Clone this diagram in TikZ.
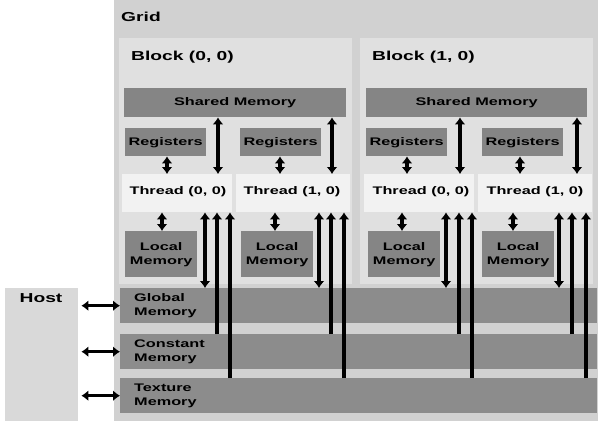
\documentclass[tikz,border=0pt]{standalone}
\usepackage{fontspec}
\newfontfamily\wide[FakeStretch=1.48]{Liberation Sans}
\usetikzlibrary{arrows.meta}
\definecolor{gridc}{gray}{0.82}
\definecolor{blockc}{gray}{0.88}
\definecolor{threadc}{gray}{0.95}
\definecolor{memc}{gray}{0.55}
\definecolor{regc}{gray}{0.52}
\definecolor{hostc}{gray}{0.85}
\begin{document}
\begin{tikzpicture}[x=1pt,y=-1pt,
  box/.style={draw=none,inner sep=0pt,anchor=north west},
  bigt/.style={font=\wide\bfseries\fontsize{13}{15}\selectfont,inner sep=0pt},
  smallt/.style={font=\wide\bfseries\fontsize{11}{12}\selectfont,inner sep=0pt,align=center},
  memt/.style={font=\wide\bfseries\fontsize{11}{14}\selectfont,inner sep=0pt,align=left,anchor=west},
  conn/.style={line width=3.6pt,draw=black},
  dbl/.style={conn,{Latex[length=7pt,width=11pt]}-{Latex[length=7pt,width=11pt]}},
  upa/.style={conn,-{Latex[length=7pt,width=11pt]}}]
\useasboundingbox (0,0) rectangle (598,421);
% grid and blocks
\node[box,fill=gridc,minimum width=484,minimum height=421] (grid) at (114,0) {};
\node[bigt,anchor=west] (gridlbl) at (121,17) {Grid};
\node[box,fill=blockc,minimum width=233,minimum height=246] (b0) at (119,38) {};
\node[box,fill=blockc,minimum width=233,minimum height=246] (b1) at (360,38) {};
\node[bigt,anchor=west] (b0lbl) at (131,57) {Block (0, 0)};
\node[bigt,anchor=west] (b1lbl) at (372,57) {Block (1, 0)};
% shared memory
\node[box,fill=regc,minimum width=222,minimum height=29] (s0) at (124,88) {};
\node[smallt] at (s0.center) {Shared Memory};
\node[box,fill=regc,minimum width=221,minimum height=29] (s1) at (366,88) {};
\node[smallt] at (s1.center) {Shared Memory};
% registers
\foreach \n/\x in {00/125,01/240,10/366,11/482}{
  \node[box,fill=regc,minimum width=81,minimum height=28] (r\n) at (\x,128) {};
  \node[smallt] at (r\n.center) {Registers};
}
% threads
\node[box,fill=threadc,minimum width=110,minimum height=38] (t00) at (122,174) {};
\node[box,fill=threadc,minimum width=114,minimum height=38] (t01) at (236,174) {};
\node[box,fill=threadc,minimum width=110,minimum height=38] (t10) at (364,174) {};
\node[box,fill=threadc,minimum width=114,minimum height=38] (t11) at (478,174) {};
\node[smallt] at (178,192) {Thread (0, 0)};
\node[smallt] at (292,192) {Thread (1, 0)};
\node[smallt] at (421,192) {Thread (0, 0)};
\node[smallt] at (535,192) {Thread (1, 0)};
% local memory
\foreach \n/\x in {00/125,01/241,10/368,11/482}{
  \node[box,fill=regc,minimum width=72,minimum height=46] (l\n) at (\x,231) {};
  \node[smallt,font=\wide\bfseries\fontsize{11}{14}\selectfont] at (l\n.center) {Local\\Memory};
}
% global, constant, texture
\node[box,fill=memc,minimum width=477,minimum height=35] (gm) at (120,288) {};
\node[box,fill=memc,minimum width=477,minimum height=35] (cm) at (120,334) {};
\node[box,fill=memc,minimum width=477,minimum height=35] (tm) at (120,378) {};
\node[memt] (gml) at ([xshift=14pt]gm.west) {Global\\Memory};
\node[memt] (cml) at ([xshift=14pt]cm.west) {Constant\\Memory};
\node[memt] (tml) at ([xshift=14pt]tm.west) {Texture\\Memory};
% host
\node[box,fill=hostc,minimum width=73,minimum height=133] (host) at (5,288) {};
\node[bigt] (hostlbl) at (41,298) {Host};
\draw[dbl,line width=2.8pt,shorten <=3pt] (host.east |- gm.west) -- (gm.west);
\draw[dbl,line width=2.8pt,shorten <=3pt] (host.east |- cm.west) -- (cm.west);
\draw[dbl,line width=2.8pt,shorten <=3pt] (host.east |- tm.west) -- (tm.west);
% thread connectors
\foreach \n/\s/\ra/\la/\sa/\ga/\gb/\gc in {00/0/167/162/218/205/217/230,01/0/280/275/332/319/331/344,10/1/407/402/460/446/459/472,11/1/520/513/577/559/572/586}{
  \draw[dbl] (\ra,0 |- r\n.south) -- (\ra,0 |- t\n.north);
  \draw[dbl] (\sa,0 |- s\s.south) -- (\sa,0 |- t\n.north);
  \draw[dbl] (\la,0 |- t\n.south) -- (\la,0 |- l\n.north);
  \draw[dbl] (\ga,0 |- t\n.south) -- (\ga,0 |- gm.north);
  \draw[upa] (\gb,0 |- cm.north) -- (\gb,0 |- t\n.south);
  \draw[upa] (\gc,0 |- tm.north) -- (\gc,0 |- t\n.south);
}
\end{tikzpicture}
\end{document}
